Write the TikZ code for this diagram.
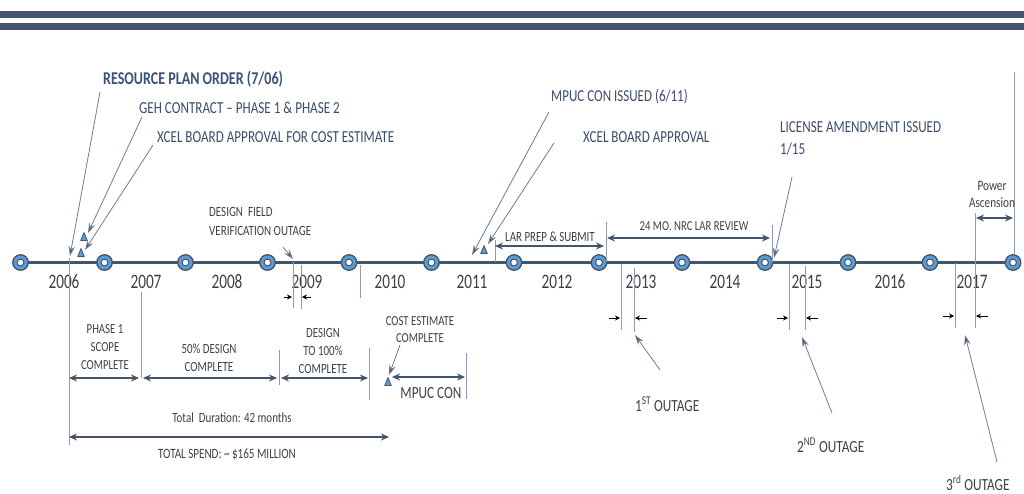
\documentclass[tikz,border=0pt]{standalone}
\usepackage{fontspec}
\usetikzlibrary{arrows.meta,calc}
\newfontfamily\cf[FakeStretch=0.78]{Carlito}
\newfontfamily\cfy[FakeStretch=0.74]{Carlito}
\definecolor{slate}{HTML}{44546A}
\definecolor{ringblue}{HTML}{5B9BD5}
\definecolor{thinc}{HTML}{8E9BB0}
\definecolor{ptrc}{HTML}{6E7C94}
\definecolor{txt}{HTML}{404040}
\definecolor{bluetxt}{HTML}{3B4C6B}
\definecolor{boldblue}{HTML}{3A5379}
\begin{document}
\begin{tikzpicture}[x=1pt,y=-1pt,
  toplbl/.style={font=\cf\fontsize{16.8}{19}\selectfont, text=bluetxt, inner sep=0pt, anchor=west},
  smlbl/.style={font=\cf\fontsize{14}{18}\selectfont, text=txt, inner sep=0pt, align=center},
  yearlbl/.style={font=\cfy\fontsize{20.6}{24}\selectfont, text=txt, inner sep=0pt},
  outlbl/.style={font=\cf\fontsize{17}{20}\selectfont, text=txt, inner sep=0pt, anchor=base west},
  ring/.style={circle, minimum size=15.5pt, inner sep=0pt, fill=ringblue, draw=slate, line width=1.3pt,
    path picture={\fill[white, draw=slate, line width=1pt] (path picture bounding box.center) circle (3.4pt);}},
  tick/.style={draw=thinc, line width=0.9pt},
  pointer/.style={draw=ptrc, line width=0.8pt, -{Stealth[length=10pt, width=6.5pt, fill=slate]}},
  span/.style={draw=slate, line width=2pt, {Stealth[length=8pt,width=7pt]}-{Stealth[length=8pt,width=7pt]}},
  marker/.style={draw=black, line width=1pt, -{Stealth[length=5pt,width=5pt]}},
  tri/.style={fill=ringblue, draw=slate, line width=0.8pt, line join=round}
]
\useasboundingbox (0,0) rectangle (1024,493);
% header bars
\fill[slate] (0,11) rectangle (1024,18);
\fill[slate] (0,23) rectangle (1024,30);

% timeline circles
\foreach \n/\x in {0/20.5,1/104.5,2/185.5,3/267.5,4/349,5/431.5,6/514,7/599,8/682,9/765,10/848,11/930,12/1013}
  \coordinate (p\n) at (\x,262.5);
\draw[slate, line width=2.5pt] (p0) -- (p12);
\foreach \n in {0,...,12} \node[ring] (c\n) at (p\n) {};

% years
\foreach \y/\x in {2006/64,2007/146,2008/227,2009/307,2010/390,2011/472,2012/557,2013/641,2014/725,2015/807,2016/890,2017/972}
  \node[yearlbl] (y\y) at (\x,282) {\y};

% vertical ticks
\draw[tick] (69,258) -- (69,445);
\draw[tick] (141,292) -- (141,378);
\draw[tick] (279,350) -- (279,385);
\draw[tick] (369,348) -- (369,400);
\draw[tick] (466,353) -- (466,399);
\draw[tick] (293,262) -- (293,308);
\draw[tick] (301,265) -- (301,309);
\draw[tick] (360,265) -- (360,298);
\draw[tick] (495,240) -- (495,262);
\draw[tick] (606,222) -- (606,262);
\draw[tick] (772,225) -- (772,262);
\draw[tick] (621,264) -- (621,330);
\draw[tick] (634,268) -- (634,332);
\draw[tick] (789,264) -- (789,330);
\draw[tick] (805,266) -- (805,330);
\draw[tick] (955,263) -- (955,328);
\draw[tick] (975,213) -- (975,328);
\draw[tick] (1014,72) -- (1014,255);

% triangles
\coordinate (t1) at (84,237);
\coordinate (t2) at (81,253);
\coordinate (t3) at (484,250);
\coordinate (t4) at (388,382);
\foreach \t in {t1,t2,t3,t4}
  \path[tri] (\t) ++(0,-4.5) -- ++(3.3,8) -- ++(-6.6,0) -- cycle;

% top labels
\node[toplbl, font=\cf\bfseries\fontsize{18}{19}\selectfont, text=boldblue] (rpo) at (103,79) {RESOURCE PLAN ORDER (7/06)};
\node[toplbl] (geh) at (139,108) {GEH CONTRACT – PHASE 1 \& PHASE 2};
\node[toplbl] (xcel1) at (157,137) {XCEL BOARD APPROVAL FOR COST ESTIMATE};
\node[toplbl, font=\cf\fontsize{16.7}{19}\selectfont] (mpuci) at (551,97) {MPUC CON ISSUED (6/11)};
\node[toplbl] (xcel2) at (583,137) {XCEL BOARD APPROVAL};
\node[toplbl, align=left, anchor=north west, font=\cf\fontsize{16.75}{22}\selectfont] (lic) at (780,121) {LICENSE AMENDMENT ISSUED\\1/15};
\node[smlbl, align=left, anchor=north west, font=\cf\fontsize{14.1}{19}\selectfont] (dfv) at (209,207) {DESIGN\ \ FIELD\\VERIFICATION OUTAGE};
\node[smlbl, font=\cf\fontsize{14}{18}\selectfont] (lar) at (550,237) {LAR PREP \& SUBMIT};
\node[smlbl, font=\cf\fontsize{13.7}{18}\selectfont] (nrc) at (694,226) {24 MO. NRC LAR REVIEW};
\node[smlbl, font=\cf\fontsize{14.4}{17}\selectfont] (pa) at (992,194) {Power\\Ascension};

% pointers
\coordinate (s1) at (100,92);
\coordinate (e1) at (70,256);
\coordinate (s2) at (142,117);
\coordinate (s3) at (153,145);
\coordinate (s4) at (283,247);
\coordinate (e4) at (293,259);
\coordinate (s5) at (549,112);
\coordinate (e5) at (472,255);
\coordinate (s6) at (554,143);
\coordinate (s7) at (792,177);
\coordinate (e7) at (774,258);
\coordinate (s8) at (400,345);
\coordinate (s9) at (660,370);
\coordinate (e9) at (635,335);
\coordinate (s10) at (832,413);
\coordinate (e10) at (802,337);
\coordinate (s11) at (997,462);
\coordinate (e11) at (965,335);
\draw[pointer] (s1) -- (e1);
\draw[pointer] (s2) -- ($(t1)+(4,-4)$);
\draw[pointer] (s3) -- ($(t2)+(4,-3)$);
\draw[pointer] (s4) -- (e4);
\draw[pointer] (s5) -- (e5);
\draw[pointer] (s6) -- ($(t3)+(4,-6)$);
\draw[pointer] (s7) -- (e7);
\draw[pointer] (s8) -- ($(t4)+(1,-7)$);
\draw[pointer] (s9) -- (e9);
\draw[pointer] (s10) -- (e10);
\draw[pointer] (s11) -- (e11);

% span arrows
\draw[span] (69,378) -- (139,378);
\draw[span] (143,378) -- (277,378);
\draw[span] (281,378) -- (368,378);
\draw[span] (392,377) -- (465,377);
\draw[span] (69,437) -- (389,437);
\draw[span] (495,246) -- (604,246);
\draw[span] (607,238) -- (770,238);
\draw[span] (976,218) -- (1013,218);

% outage markers
\draw[marker] (284,297) -- (292,297);
\draw[marker] (311,297) -- (302,297);
\draw[marker] (609,318) -- (620,318);
\draw[marker] (647,318) -- (635,318);
\draw[marker] (777,318) -- (788,318);
\draw[marker] (818,318) -- (806,318);
\draw[marker] (943,316) -- (954,316);
\draw[marker] (988,316) -- (976,316);

% bottom labels
\node[smlbl, font=\cf\fontsize{13.8}{18}\selectfont] (ph1) at (105,347) {PHASE 1\\SCOPE\\COMPLETE};
\node[smlbl] (d50) at (209,358) {50\% DESIGN\\COMPLETE};
\node[smlbl] (d100) at (323,351) {DESIGN\\TO 100\%\\COMPLETE};
\node[smlbl, font=\cf\fontsize{13.8}{17}\selectfont] (cec) at (420,329.5) {COST ESTIMATE\\COMPLETE};
\node[smlbl, font=\cf\fontsize{17}{20}\selectfont] (mpuc) at (431,393) {MPUC CON};
\node[smlbl, font=\cf\fontsize{14.1}{18}\selectfont] (dur) at (232,418) {Total\ \ Duration: 42 months};
\node[smlbl, font=\cf\fontsize{14.2}{18}\selectfont] (spend) at (227,454) {TOTAL SPEND: \textasciitilde\ \$165 MILLION};

\node[outlbl] (o1) at (635,411) {1\textsuperscript{ST} OUTAGE};
\node[outlbl] (o2) at (797,452) {2\textsuperscript{ND} OUTAGE};
\node[outlbl] (o3) at (946,490) {3\textsuperscript{rd} OUTAGE};
\end{tikzpicture}
\end{document}
